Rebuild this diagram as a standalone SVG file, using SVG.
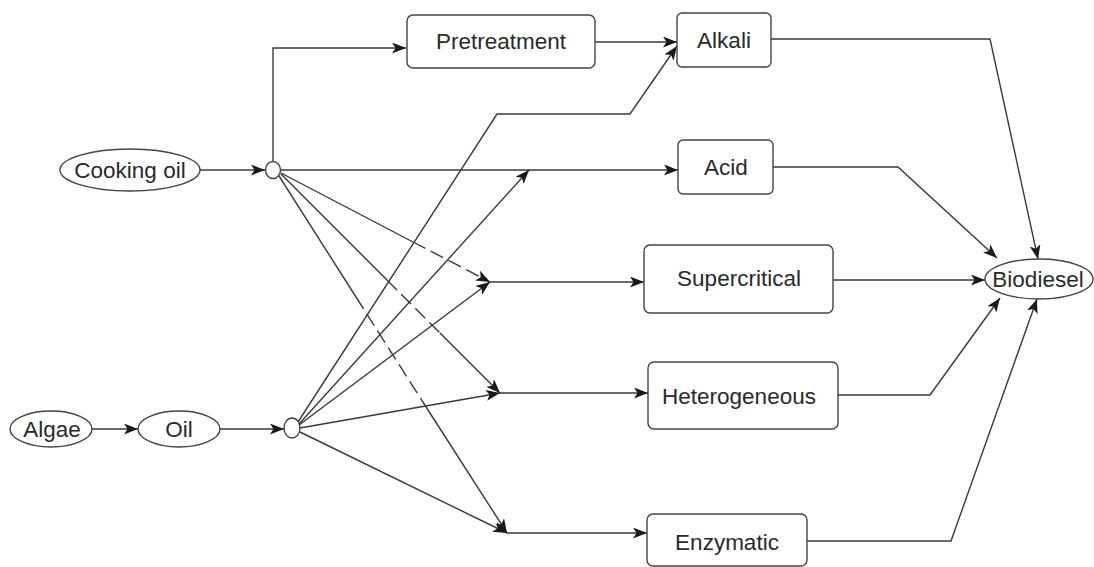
<svg xmlns="http://www.w3.org/2000/svg" width="1094" height="567" viewBox="0 0 1094 567">
<defs>
<style>
.box{fill:#fff;stroke:#444;stroke-width:1.4}
.ell{fill:#fff;stroke:#444;stroke-width:1.4}
.lbl{font-family:"Liberation Sans",Arial,sans-serif;font-size:22.5px;fill:#2a2a2a;text-anchor:middle}
.c{fill:none;stroke:#3a3a3a;stroke-width:1.4}
.d{stroke-dasharray:14 6}
</style>
<marker id="ah" viewBox="0 0 14 11" refX="14" refY="5.5" markerWidth="14" markerHeight="11" orient="auto" markerUnits="userSpaceOnUse">
<path d="M0,0 L14,5.5 L0,11 L3.5,5.5 z" fill="#1a1a1a"/>
</marker>
</defs>
<rect width="1094" height="567" fill="#fff"/>
<g id="connectors">
<path class="c" d="M200,170 L265,170" marker-end="url(#ah)"/>
<path class="c" d="M273,161 L273,48 L406,48" marker-end="url(#ah)"/>
<path class="c" d="M595,42 L677,42" marker-end="url(#ah)"/>
<path class="c" d="M298,422 L497,114 L630,114 L677,46" marker-end="url(#ah)"/>
<path class="c" d="M771,39 L990,39 L1038,259" marker-end="url(#ah)"/>
<path class="c" d="M281,170 L678,170" marker-end="url(#ah)"/>
<path class="c" d="M299,424 L529,170" marker-end="url(#ah)"/>
<path class="c" d="M773,167 L898,167 L997,258" marker-end="url(#ah)"/>
<path class="c" d="M281,173 L413,242"/>
<path class="c d" d="M413,242 L490,282" marker-end="url(#ah)"/>
<path class="c" d="M299,425 L490,282" marker-end="url(#ah)"/>
<path class="c" d="M490,282 L644,282" marker-end="url(#ah)"/>
<path class="c" d="M833,280 L985,280" marker-end="url(#ah)"/>
<path class="c" d="M281,174 L387,280"/>
<path class="c d" d="M387,280 L440,333"/>
<path class="c" d="M440,333 L500,393" marker-end="url(#ah)"/>
<path class="c" d="M300,428 L500,393" marker-end="url(#ah)"/>
<path class="c" d="M500,393 L648,393" marker-end="url(#ah)"/>
<path class="c" d="M838,395 L930,395 L1000,298" marker-end="url(#ah)"/>
<path class="c" d="M279,176 L356,297"/>
<path class="c d" d="M356,297 L428,410"/>
<path class="c" d="M428,410 L507,533" marker-end="url(#ah)"/>
<path class="c" d="M300,432 L507,533" marker-end="url(#ah)"/>
<path class="c" d="M507,533 L647,533" marker-end="url(#ah)"/>
<path class="c" d="M807,541 L951,541 L1037,299" marker-end="url(#ah)"/>
<path class="c" d="M92,429 L138,429" marker-end="url(#ah)"/>
<path class="c" d="M220,429 L284,429" marker-end="url(#ah)"/>
</g>
<g id="cooking-oil"><ellipse class="ell" cx="130" cy="170" rx="70" ry="21"/><text class="lbl" x="130" y="178">Cooking oil</text></g>
<g id="junction-1"><ellipse class="ell" cx="273" cy="170" rx="7.5" ry="8.5"/></g>
<g id="algae"><ellipse class="ell" cx="51" cy="429" rx="41" ry="18"/><text class="lbl" x="52" y="437">Algae</text></g>
<g id="oil"><ellipse class="ell" cx="179" cy="429" rx="41" ry="18"/><text class="lbl" x="179" y="437">Oil</text></g>
<g id="junction-2"><ellipse class="ell" cx="292" cy="428" rx="8" ry="10"/></g>
<g id="pretreatment"><rect class="box" x="407" y="15" width="188" height="53" rx="6"/><text class="lbl" x="501" y="49">Pretreatment</text></g>
<g id="alkali"><rect class="box" x="677" y="13" width="94" height="54" rx="5"/><text class="lbl" x="724" y="48">Alkali</text></g>
<g id="acid"><rect class="box" x="678" y="140" width="95" height="54" rx="5"/><text class="lbl" x="726" y="175">Acid</text></g>
<g id="supercritical"><rect class="box" x="644" y="245" width="189" height="68" rx="6"/><text class="lbl" x="739" y="286">Supercritical</text></g>
<g id="heterogeneous"><rect class="box" x="648" y="362" width="190" height="67" rx="6"/><text class="lbl" x="739" y="404">Heterogeneous</text></g>
<g id="enzymatic"><rect class="box" x="647" y="514" width="160" height="52" rx="6"/><text class="lbl" x="727" y="550">Enzymatic</text></g>
<g id="biodiesel"><ellipse class="ell" cx="1039" cy="279" rx="54" ry="20"/><text class="lbl" x="1038" y="287">Biodiesel</text></g>
</svg>
